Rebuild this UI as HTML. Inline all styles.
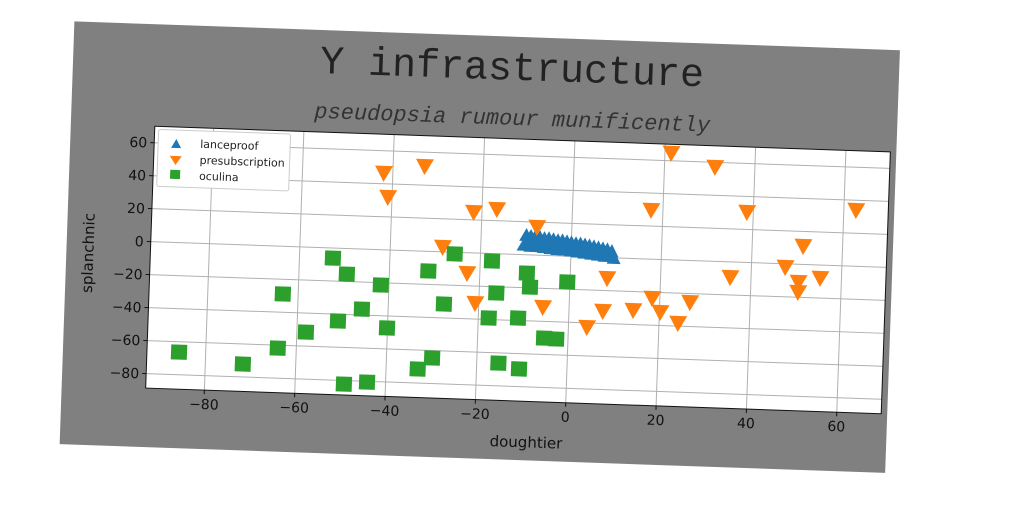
<!DOCTYPE html>
<html><head><meta charset="utf-8"><style>
html,body{margin:0;padding:0;background:#fff;width:1024px;height:512px;overflow:hidden}
svg text{font-family:"DejaVu Sans","Liberation Sans",sans-serif}
</style></head><body>
<svg id="chart" width="1024" height="512" viewBox="0 0 1024 512" xmlns="http://www.w3.org/2000/svg">
<g id="rot" transform="rotate(2 518 270)">
<rect x="66" y="37" width="826" height="423" fill="#808080"/>
<text x="505" y="80" text-anchor="middle" style="font-family:'Liberation Mono',monospace;font-size:40px" fill="#222">Y infrastructure</text>
<text x="507" y="125" text-anchor="middle" style="font-family:'Liberation Mono',monospace;font-size:22px;font-style:italic" fill="#333">pseudopsia rumour munificently</text>
<rect x="150" y="139" width="736" height="262" fill="#fff"/>
<g id="grid"></g>
<g id="marks"></g>
<rect x="150" y="139" width="736" height="262" fill="none" stroke="#111" stroke-width="1"/>
<g id="ticks"></g>
<text x="532" y="447" text-anchor="middle" font-size="15" fill="#111">doughtier</text>
<text x="0" y="0" transform="translate(93 268) rotate(-90)" text-anchor="middle" font-size="15" fill="#111">splanchnic</text>
<g>
<rect x="154" y="142" width="132" height="57" fill="#fff" stroke="#ccc" rx="2"/>
<path d="M172,151 L177,160 L167,160 Z" fill="#1f77b4"/>
<text x="196" y="159" font-size="11" fill="#222">lanceproof</text>
<path d="M166,168 L178,168 L172,177 Z" fill="#ff7f0e"/>
<text x="196" y="175" font-size="11" fill="#222">presubscription</text>
<rect x="167" y="182" width="10" height="9" fill="#2ca02c"/>
<text x="196" y="191" font-size="11" fill="#222">oculina</text>
</g>
</g>
</svg>
<script>
const xTicks=[-80,-60,-40,-20,0,20,40,60];
const yTicks=[-80,-60,-40,-20,0,20,40,60];
const blueX=[-10,-9,-8,-7,-6,-5,-4,-3,-2,-1,0,1,2,3,4,5,6,7,8,9,-10.5,-9,-7.5,-6,-4.5,-3,-1.5,0,1.5,3,4.5,6,7.5,9.5,-9,-7,-5,-3,-1,1,3,5,7,9];
const blueY=[12,11.5,11.5,11,10.5,10.5,10,9.5,9.5,9,8.5,8,8,7.5,7,6.5,6,5.5,5,4,6,5.5,5.5,5,4.5,4,4,3.5,3,2.5,2,1.5,1,0,9,8.5,8,7,6.5,6,5,4.5,3.5,2];
const orangeX=[-42,-40.9,-33,-21.8,-16.7,-7.7,-28.4,-22.8,-20.8,-5.8,4.1,7.5,8.2,14.2,18.3,20.2,24.2,26.7,17.4,21.4,31.2,38.6,62.7,51.3,47.5,50.5,50.5,55.3,35.4];
const orangeY=[46.6,32.1,51.6,24.8,27.1,17.1,3,-12.3,-30.3,-31.3,-42.5,-32.4,-12.4,-31.2,-23.5,-31.8,-38.1,-25.2,29.8,64.8,57.2,30.6,34.1,11.2,-1.9,-10.7,-16.8,-7.8,-9.2];
const greenX=[-85.9,-71.7,-64.1,-58,-63.4,-52.6,-49.4,-45.8,-51,-49.2,-44.1,-41.8,-40.1,-33,-29.9,-31.4,-27.7,-25.7,-17.4,-9.6,-8.8,-0.6,-16.2,-11.2,-5.3,-2.6,-15.2,-10.6,-17.7];
const greenY=[-66.3,-72.2,-61.8,-51.5,-28.9,-6.1,-15.5,-36.4,-44.1,-82.2,-80.5,-21.4,-47.3,-71.5,-64.5,-11.9,-31.6,-1,-4.5,-11.1,-19.5,-15.6,-23.8,-38.5,-50.1,-50.4,-66.2,-69.3,-39.1];

const NS='http://www.w3.org/2000/svg';
const X=v=>150+(v+93)*4.52;
const Y=v=>139+(70-v)*1.65;
function mk(tag,attrs,parent){const e=document.createElementNS(NS,tag);for(const k in attrs)e.setAttribute(k,attrs[k]);parent.appendChild(e);return e;}
const grid=document.getElementById('grid'),ticks=document.getElementById('ticks'),marks=document.getElementById('marks');
xTicks.forEach(t=>{
  const l=mk('line',{x1:X(t),x2:X(t),y1:139,y2:401,stroke:'#b0b0b0','stroke-width':1},grid);
  
  
  const tk=mk('line',{x1:X(t),x2:X(t),y1:401,y2:405,stroke:'#111'},ticks);
  
  
  const tx=mk('text',{x:X(t),y:420,'text-anchor':'middle','font-size':14,fill:'#111'},ticks);
  tx.textContent=t<0?'\u2212'+(-t):String(t);
  
  
});
yTicks.forEach(t=>{
  const l=mk('line',{x1:150,x2:886,y1:Y(t),y2:Y(t),stroke:'#b0b0b0','stroke-width':1},grid);
  
  
  const tk=mk('line',{x1:146,x2:150,y1:Y(t),y2:Y(t),stroke:'#111'},ticks);
  
  
  const tx=mk('text',{x:143,y:Y(t)+5,'text-anchor':'end','font-size':14,fill:'#111'},ticks);
  tx.textContent=t<0?'\u2212'+(-t):String(t);
  
  
});
blueX.forEach((v,i)=>{
  const cx=X(v),cy=Y(blueY[i]);
  const p=mk('path',{d:`M${cx},${cy-7} L${cx+7},${cy+6} L${cx-7},${cy+6} Z`,fill:'#1f77b4'},marks);
  
  
});
orangeX.forEach((v,i)=>{
  const cx=X(v),cy=Y(orangeY[i]);
  const p=mk('path',{d:`M${cx-9},${cy-7} L${cx+9},${cy-7} L${cx},${cy+9} Z`,fill:'#ff7f0e'},marks);
  
  
});
greenX.forEach((v,i)=>{
  const cx=X(v),cy=Y(greenY[i]);
  const p=mk('rect',{x:cx-8,y:cy-7.5,width:16,height:15,fill:'#2ca02c'},marks);
  
  
});
</script>
</body></html>
